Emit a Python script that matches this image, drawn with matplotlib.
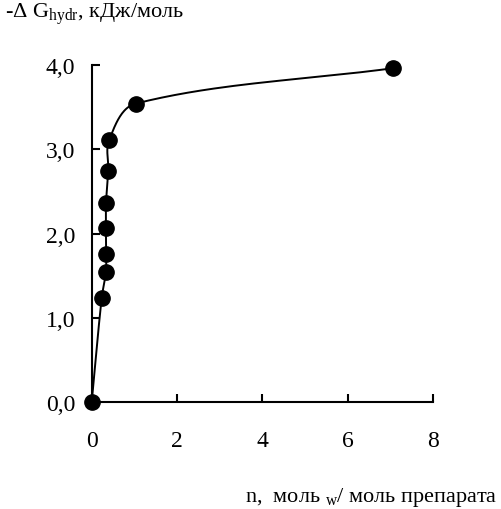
import numpy as np
import matplotlib
matplotlib.use("Agg")
from matplotlib import pyplot as plt

plt.rcParams["font.family"] = ["Liberation Serif", "DejaVu Serif"]
plt.rcParams["mathtext.fontset"] = "custom"
plt.rcParams["mathtext.rm"] = "Liberation Serif"
plt.rcParams["mathtext.it"] = "Liberation Serif"

# data
n_water = [0.0, 0.235, 0.336, 0.336, 0.336, 0.336, 0.39, 0.41, 1.03, 7.07]
dg_hydr = [0.0, 1.24, 1.55, 1.76, 2.07, 2.36, 2.74, 3.11, 3.54, 3.96]
x_ticks = [0, 2, 4, 6, 8]
y_ticks = [0, 1, 2, 3, 4]
y_labels = ["0,0", "1,0", "2,0", "3,0", "4,0"]


def smooth(xs, ys, steps=40):
    # bezier smoothing, tangents scaled by segment length (no overshoot)
    sx, sy = 42.6, 84.4  # work in pixel-ish space
    P = np.column_stack([np.array(xs, float) * sx, np.array(ys, float) * sy])
    n = len(P)
    tang = np.zeros_like(P)
    for i in range(n):
        a = P[max(i - 1, 0)]
        b = P[min(i + 1, n - 1)]
        d = b - a
        tang[i] = d / (np.hypot(*d) or 1.0)
    out = []
    t = np.linspace(0, 1, steps)[:, None]
    for i in range(n - 1):
        p1, p2 = P[i], P[i + 1]
        L = np.hypot(*(p2 - p1)) / 3.0
        c1 = p1 + tang[i] * L
        c2 = p2 - tang[i + 1] * L
        seg = ((1 - t) ** 3) * p1 + 3 * ((1 - t) ** 2) * t * c1 + 3 * (1 - t) * t ** 2 * c2 + t ** 3 * p2
        out.append(seg)
    out = np.vstack(out)
    return out[:, 0] / sx, out[:, 1] / sy


fig = plt.figure(figsize=(5.01, 5.10), dpi=100)
ax = fig.add_axes([0.183, 0.209, 0.681, 0.662])

cx, cy = smooth(n_water, dg_hydr)
ax.plot(cx, cy, color="black", linewidth=1.4, clip_on=False)
ax.plot(n_water, dg_hydr, "o", color="black", markersize=11, clip_on=False, zorder=3)

ax.set_xlim(0, 8)
ax.set_ylim(0, 4)
ax.set_xticks(x_ticks)
ax.set_yticks(y_ticks)
ax.set_yticklabels(y_labels)
ax.spines["top"].set_visible(False)
ax.spines["right"].set_visible(False)
for s in ("left", "bottom"):
    ax.spines[s].set_linewidth(1.5)
ax.tick_params(axis="x", direction="in", length=6, width=1.5, pad=20, labelsize=17)
ax.tick_params(axis="y", direction="in", length=6, width=1.5, pad=12, labelsize=17)

fig.text(0.01, 0.972, r"-Δ G$_{\mathrm{hydr}}$, кДж/моль", fontsize=16, ha="left", va="center")
fig.text(0.993, 0.024, r"n,  моль $_{\mathrm{w}}$/ моль препарата", fontsize=16, ha="right", va="center")

fig.savefig("out.png", dpi=100)
